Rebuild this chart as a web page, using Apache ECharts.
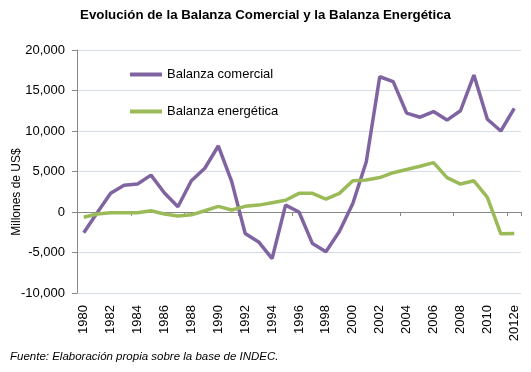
<!DOCTYPE html>
<html><head><meta charset="utf-8">
<script src="https://cdn.jsdelivr.net/npm/echarts@6/dist/echarts.min.js"></script>
<style>html,body{margin:0;padding:0;background:#fff}#c{width:531px;height:372px}</style>
</head><body><div id="c"></div>
<script>
const years = ['1980','1981','1982','1983','1984','1985','1986','1987','1988','1989','1990','1991','1992','1993','1994','1995','1996','1997','1998','1999','2000','2001','2002','2003','2004','2005','2006','2007','2008','2009','2010','2011','2012e'];
const comercial = [-2550,-100,2300,3300,3450,4550,2350,650,3850,5400,8150,3750,-2650,-3700,-5750,850,0,-3900,-4900,-2400,1050,6200,16700,16100,12200,11700,12400,11350,12500,16900,11450,10000,12800];
const energetica = [-650,-250,-100,-100,-100,150,-250,-500,-350,150,700,250,700,850,1150,1450,2300,2300,1600,2300,3850,3950,4250,4850,5250,5650,6100,4250,3450,3850,1800,-2700,-2650];
const titleText = 'Evolución de la Balanza Comercial y la Balanza Energética';
const sourceText = 'Fuente: Elaboración propia sobre la base de INDEC.';
const yName = 'Millones de US$';
const F = 'Liberation Sans, Arial, sans-serif';
const chart = echarts.init(document.getElementById('c'));
chart.setOption({
  animation: false,
  textStyle: {fontFamily: F},
  title: {text: titleText, left: 'center', top: 4, textStyle: {fontSize: 13.3, fontWeight: 'bold', color: '#000', fontFamily: F}},
  graphic: [
    {type: 'text', left: 10, top: 351, style: {text: sourceText, font: 'italic 11.5px ' + F, fill: '#000'}},
    {type: 'text', x: 17, y: 192, rotation: Math.PI / 2, style: {text: yName, font: '12px ' + F, fill: '#000', align: 'center', verticalAlign: 'middle'}}
  ],
  legend: {orient: 'vertical', left: 125, top: 63, itemGap: 24, itemWidth: 32, itemHeight: 4, icon: 'rect',
    textStyle: {fontSize: 13, color: '#000'}, data: ['Balanza comercial','Balanza energética']},
  grid: {left: 77, right: 10, top: 50, bottom: 79},
  xAxis: [
    {type: 'category', data: years, position: 'bottom', axisLine: {show: false, onZero: false}, axisTick: {show: false},
      axisLabel: {rotate: 90, interval: 1, fontSize: 13, color: '#000', margin: 12}},
    {type: 'category', data: years, position: 'bottom', axisLine: {onZero: true, lineStyle: {color: '#888'}},
      axisTick: {show: true, length: 4, lineStyle: {color: '#888'}, inside: false}, axisLabel: {show: false}}
  ],
  yAxis: {type: 'value', min: -10000, max: 20000, interval: 5000,
    axisLine: {show: true, lineStyle: {color: '#888'}}, axisTick: {show: true, length: 5, lineStyle: {color: '#888'}},
    axisLabel: {fontSize: 13, color: '#000', margin: 12, formatter: v => v.toLocaleString('en-US')},
    splitLine: {lineStyle: {color: '#d6dde8'}}},
  series: [
    {name: 'Balanza comercial', type: 'line', data: comercial, xAxisIndex: 0, symbol: 'none', lineStyle: {width: 3.5, color: '#8064A2'}, itemStyle: {color: '#8064A2'}},
    {name: 'Balanza energética', type: 'line', data: energetica, xAxisIndex: 0, symbol: 'none', lineStyle: {width: 3.5, color: '#9BBB59'}, itemStyle: {color: '#9BBB59'}}
  ]
});
</script></body></html>
